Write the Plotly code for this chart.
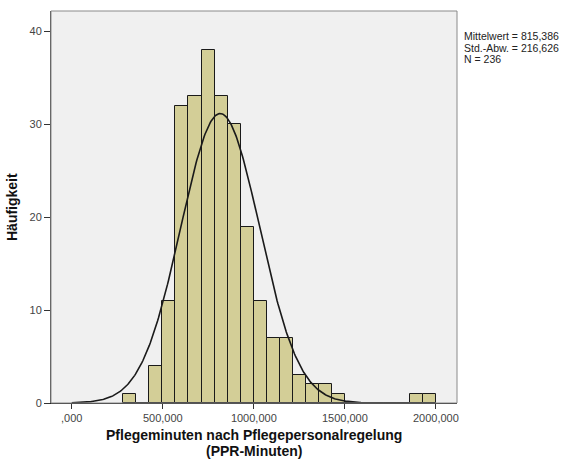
import numpy as np
import plotly.graph_objects as go

# Histogram of PPR minutes (SPSS-style output)
bin_start = 282.5
bin_width = 71.7
counts = [1, 0, 4, 11, 32, 33, 38, 33, 30, 19, 11, 7, 7, 3, 2, 2, 1,
          0, 0, 0, 0, 0, 1, 1]
mean_val = 815.386
sd_val = 216.626
n_val = 236

x_tickvals = [0, 500, 1000, 1500, 2000]
x_ticktext = [",000", "500,000", "1000,000", "1500,000", "2000,000"]
y_tickvals = [0, 10, 20, 30, 40]

W, H = 563, 459
L, R, T, B = 51, 106, 11, 56
PW, PH = W - L - R, H - T - B

centers = [bin_start + bin_width * (i + 0.5) for i in range(len(counts))]

# fitted normal curve scaled to counts
xc = np.linspace(0, 2000, 400)
yc = n_val * bin_width / (sd_val * np.sqrt(2 * np.pi)) * np.exp(-0.5 * ((xc - mean_val) / sd_val) ** 2)

fig = go.Figure()
fig.add_trace(go.Bar(
    x=centers, y=counts, width=bin_width,
    marker=dict(color="#D3CE97", line=dict(color="#1a1a1a", width=1)),
    showlegend=False, hoverinfo="x+y",
))
fig.add_trace(go.Scatter(
    x=xc, y=yc, mode="lines",
    line=dict(color="#1a1a1a", width=1.6),
    showlegend=False, hoverinfo="skip",
))

font = "Liberation Sans, Arial, sans-serif"
fig.update_layout(
    width=W, height=H,
    margin=dict(l=L, r=R, t=T, b=B, pad=0),
    paper_bgcolor="white", plot_bgcolor="#F0F0F0",
    bargap=0,
    font=dict(family=font, size=11, color="#333"),
    xaxis=dict(
        range=[-114, 2116], tickvals=x_tickvals, ticktext=x_ticktext,
        ticks="outside", ticklen=5, tickcolor="#333", showgrid=False,
        zeroline=False, showline=True, linecolor="#222", linewidth=1,
        tickfont=dict(size=11, color="#444"),
    ),
    yaxis=dict(
        range=[0, 42.2], tickvals=y_tickvals,
        ticks="outside", ticklen=6, tickcolor="#333", showgrid=False,
        zeroline=False, showline=True, linecolor="#444", linewidth=1,
        tickfont=dict(size=11, color="#444"),
    ),
    shapes=[dict(type="rect", xref="paper", yref="paper", x0=0, x1=1, y0=0, y1=1,
                 line=dict(color="#8a8a8a", width=1), layer="above")],
)

# axis titles
title_font = dict(family=font, size=14, color="#111")
fig.add_annotation(
    xref="paper", yref="paper", x=0.5, y=-31.5 / PH,
    text="<b>Pflegeminuten nach Pflegepersonalregelung</b>", showarrow=False,
    font=title_font, yanchor="middle", borderpad=0,
)
fig.add_annotation(
    xref="paper", yref="paper", x=0.5, y=-48 / PH,
    text="<b>(PPR-Minuten)</b>", showarrow=False,
    font=title_font, yanchor="middle", borderpad=0,
)
fig.add_annotation(
    xref="paper", yref="paper", x=-39 / PW, y=0.5,
    text="<b>Häufigkeit</b>", showarrow=False, textangle=-90,
    font=title_font, xanchor="center",
)

# summary statistics, one line per annotation for tight spacing
def de_num(v):
    return f"{v:.3f}".replace(".", ",")

stat_lines = [
    f"Mittelwert = {de_num(mean_val)}",
    f"Std.-Abw. = {de_num(sd_val)}",
    f"N = {n_val}",
]
for i, line in enumerate(stat_lines):
    fig.add_annotation(
        xref="paper", yref="paper", x=1 + 6 / PW, y=1 - (24.5 + 12 * i) / PH,
        text=line, showarrow=False, align="left", xanchor="left", yanchor="middle",
        font=dict(family=font, size=10.5, color="#222"), borderpad=0,
    )

fig.write_html("out.html")
